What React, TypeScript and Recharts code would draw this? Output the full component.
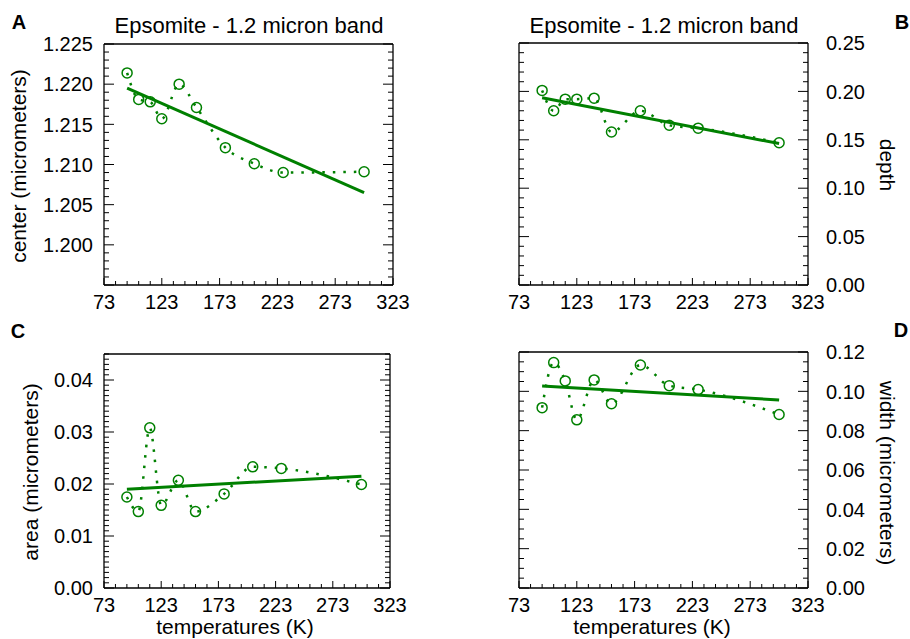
import React from 'react';
import { ComposedChart, Line, Scatter, XAxis, YAxis } from 'recharts';

// measurement temperatures (K)
const temps = [93, 103, 113, 123, 138, 153, 178, 203, 228, 298];

// band parameters
const centerVals = [1.2214, 1.2181, 1.2178, 1.2157, 1.22, 1.2171, 1.2121, 1.2101, 1.209, 1.2091];
const depthVals = [0.201, 0.18, 0.192, 0.192, 0.193, 0.158, 0.18, 0.165, 0.162, 0.147];
const areaVals = [0.0175, 0.0147, 0.0308, 0.0159, 0.0207, 0.0147, 0.0181, 0.0233, 0.023, 0.0199];
const widthVals = [0.0917, 0.1146, 0.1053, 0.0855, 0.1058, 0.0937, 0.1134, 0.1029, 0.1009, 0.0882];

// linear fit end points
const fitTemps = [93, 298];
const centerFit = [1.2195, 1.2065];
const depthFit = [0.1934, 0.1461];
const areaFit = [0.019, 0.0215];
const widthFit = [0.1027, 0.0956];

// tick labels
const tempTicks = [73, 123, 173, 223, 273, 323];
const centerTicks = [1.2, 1.205, 1.21, 1.215, 1.22, 1.225];
const depthTicks = [0, 0.05, 0.1, 0.15, 0.2, 0.25];
const areaTicks = [0, 0.01, 0.02, 0.03, 0.04];
const widthTicks = [0, 0.02, 0.04, 0.06, 0.08, 0.1, 0.12];

const GREEN = '#008000';
const FONT = '"Liberation Sans", Arial, Helvetica, sans-serif';

const range = (a: number, b: number, step: number): number[] => {
  const out: number[] = [];
  const n = Math.round((b - a) / step);
  for (let i = 0; i <= n; i++) out.push(+(a + i * step).toFixed(6));
  return out;
};

const has = (list: number[], v: number) => list.some((m) => Math.abs(m - v) < 1e-9);

const toPoints = (xs: number[], ys: number[]) => xs.map((t, i) => ({ t, v: ys[i] }));

const Ring = (props: any) => (
  <circle cx={props.cx} cy={props.cy} r={5} fill="none" stroke={GREEN} strokeWidth={1.5} />
);

const frame = { stroke: '#000', strokeWidth: 1.3 };

type Dir = 'up' | 'down' | 'left' | 'right';

// draws the inward tick mark, plus the label for labelled values
const makeTick = (
  dir: Dir,
  majors: number[],
  labels: number[],
  fmt: (v: number) => string,
  gap: number,
  majLen: number,
  minLen: number,
) => (props: any) => {
  const { x, y, payload } = props;
  const v = payload.value as number;
  const len = has(majors, v) ? majLen : minLen;
  const dx = dir === 'left' ? -len : dir === 'right' ? len : 0;
  const dy = dir === 'up' ? -len : dir === 'down' ? len : 0;
  let label = null;
  if (has(labels, v)) {
    const common = { fontSize: 20, fill: '#000', fontFamily: FONT };
    if (dir === 'up') {
      label = <text x={x} y={y + gap} dy="0.72em" textAnchor="middle" {...common}>{fmt(v)}</text>;
    } else if (dir === 'right') {
      label = <text x={x - gap} y={y} dy="0.36em" textAnchor="end" {...common}>{fmt(v)}</text>;
    } else if (dir === 'left') {
      label = <text x={x + gap} y={y} dy="0.36em" textAnchor="start" {...common}>{fmt(v)}</text>;
    }
  }
  return (
    <g>
      <line x1={x} y1={y} x2={x + dx} y2={y + dy} stroke="#000" strokeWidth={1} />
      {label}
    </g>
  );
};

interface PanelProps {
  left: number;
  top: number;
  width: number;
  height: number;
  margin: { top: number; right: number; bottom: number; left: number };
  yDomain: [number, number];
  yTicks: number[];
  yMinorStep: number;
  digits: number;
  side: 'left' | 'right';
  axisW: number;
  axisH: number;
  values: number[];
  fit: number[];
}

const Panel = ({
  left, top, width, height, margin, yDomain, yTicks, yMinorStep, digits, side, axisW, axisH, values, fit,
}: PanelProps) => {
  const pts = toPoints(temps, values);
  const fitPts = toPoints(fitTemps, fit);
  const xAll = range(73, 323, 10);
  const yMajor = range(yDomain[0], yDomain[1], yTicks[1] - yTicks[0]);
  const yAll = range(yDomain[0], yDomain[1], yMinorStep);
  const other = side === 'left' ? 'right' : 'left';
  const fmtX = (v: number) => String(v);
  const fmtY = (v: number) => v.toFixed(digits);

  return (
    <div style={{ position: 'absolute', left, top }}>
      <ComposedChart width={width} height={height} margin={margin}>
        <XAxis
          xAxisId="x"
          dataKey="t"
          type="number"
          domain={[73, 323]}
          allowDataOverflow
          ticks={xAll}
          interval={0}
          height={axisH}
          tickLine={false}
          tickSize={0}
          tickMargin={0}
          axisLine={frame}
          tick={makeTick('up', tempTicks, tempTicks, fmtX, 10, 7, 4)}
        />
        <XAxis
          xAxisId="xt"
          type="number"
          domain={[73, 323]}
          allowDataOverflow
          ticks={xAll}
          interval={0}
          orientation="top"
          mirror
          height={1}
          tickLine={false}
          tickSize={0}
          tickMargin={0}
          axisLine={frame}
          tick={makeTick('down', tempTicks, [], fmtX, 0, 7, 4)}
        />
        <YAxis
          yAxisId="y"
          dataKey="v"
          type="number"
          domain={yDomain}
          allowDataOverflow
          ticks={yAll}
          interval={0}
          orientation={side}
          width={axisW}
          tickLine={false}
          tickSize={0}
          tickMargin={0}
          axisLine={frame}
          tick={makeTick(side === 'left' ? 'right' : 'left', yMajor, yTicks, fmtY, side === 'left' ? 11 : 18, 10, 5)}
        />
        <YAxis
          yAxisId="yo"
          type="number"
          domain={yDomain}
          allowDataOverflow
          ticks={yAll}
          interval={0}
          orientation={other}
          mirror
          width={1}
          tickLine={false}
          tickSize={0}
          tickMargin={0}
          axisLine={frame}
          tick={makeTick(other === 'left' ? 'right' : 'left', yMajor, [], fmtY, 0, 10, 5)}
        />

        <Line
          xAxisId="x"
          yAxisId="y"
          data={pts}
          dataKey="v"
          type="monotone"
          stroke={GREEN}
          strokeWidth={2.5}
          strokeDasharray="2.5 8"
          dot={false}
          isAnimationActive={false}
        />
        <Line
          xAxisId="x"
          yAxisId="y"
          data={fitPts}
          dataKey="v"
          type="linear"
          stroke={GREEN}
          strokeWidth={3}
          dot={false}
          isAnimationActive={false}
        />
        <Scatter xAxisId="x" yAxisId="y" data={pts} dataKey="v" shape={Ring} isAnimationActive={false} />
      </ComposedChart>
    </div>
  );
};

const Txt = ({ x, y, text, rotate = 0, size = 21, bold = false }: {
  x: number; y: number; text: string; rotate?: number; size?: number; bold?: boolean;
}) => (
  <div
    style={{
      position: 'absolute',
      left: x,
      top: y,
      transform: `translate(-50%, -50%) rotate(${rotate}deg)`,
      fontFamily: FONT,
      fontSize: size,
      fontWeight: bold ? 700 : 400,
      lineHeight: 1,
      whiteSpace: 'nowrap',
      color: '#000',
    }}
  >
    {text}
  </div>
);

export default function App() {
  return (
    <div style={{ position: 'absolute', left: 0, top: 0, width: 910, height: 639, background: '#fff', overflow: 'hidden' }}>
      <Panel
        left={0} top={0} width={455} height={320}
        margin={{ top: 44, right: 62, bottom: 5, left: 0 }}
        yDomain={[1.195, 1.225]} yTicks={centerTicks} yMinorStep={0.001} digits={3}
        side="left" axisW={104} axisH={30}
        values={centerVals} fit={centerFit}
      />
      <Panel
        left={455} top={0} width={455} height={320}
        margin={{ top: 43, right: 0, bottom: 5, left: 64 }}
        yDomain={[0, 0.25]} yTicks={depthTicks} yMinorStep={0.01} digits={2}
        side="right" axisW={102} axisH={30}
        values={depthVals} fit={depthFit}
      />
      <Panel
        left={0} top={320} width={455} height={319}
        margin={{ top: 34, right: 65, bottom: 5, left: 0 }}
        yDomain={[0, 0.045]} yTicks={areaTicks} yMinorStep={0.001} digits={2}
        side="left" axisW={104} axisH={46}
        values={areaVals} fit={areaFit}
      />
      <Panel
        left={455} top={320} width={455} height={319}
        margin={{ top: 32, right: 0, bottom: 5, left: 64 }}
        yDomain={[0, 0.12]} yTicks={widthTicks} yMinorStep={0.005} digits={2}
        side="right" axisW={102} axisH={46}
        values={widthVals} fit={widthFit}
      />

      <Txt x={249} y={26} text="Epsomite - 1.2 micron band" size={22} />
      <Txt x={664} y={26} text="Epsomite - 1.2 micron band" size={22} />

      <Txt x={18} y={166} text="center (micrometers)" rotate={-90} />
      <Txt x={887} y={165} text="depth" rotate={90} />
      <Txt x={30} y={472} text="area (micrometers)" rotate={-90} />
      <Txt x={887} y={473} text="width (micrometers)" rotate={90} />
      <Txt x={235} y={626} text="temperatures (K)" />
      <Txt x={652} y={626} text="temperatures (K)" />

      <Txt x={19} y={22} text="A" size={20} bold />
      <Txt x={902} y={22} text="B" size={20} bold />
      <Txt x={18} y={331} text="C" size={20} bold />
      <Txt x={901} y={330} text="D" size={20} bold />
    </div>
  );
}
